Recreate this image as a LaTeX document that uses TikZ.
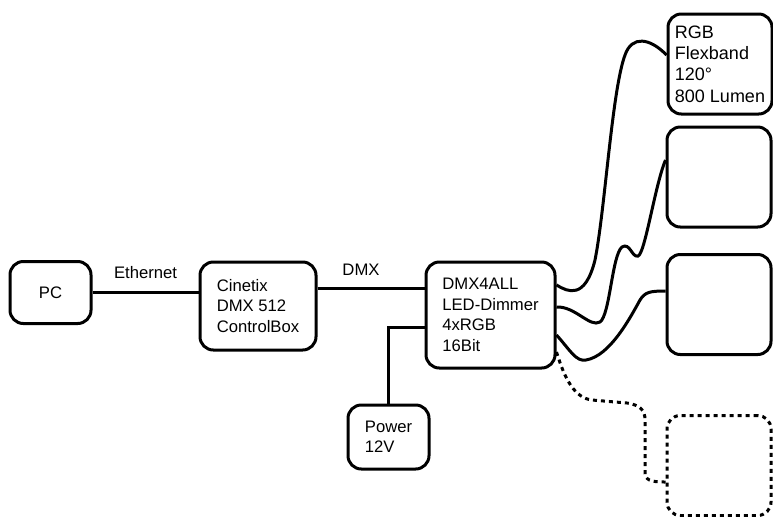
\documentclass[tikz,border=0pt]{standalone}
\usepackage{fontspec}
\setmainfont{Liberation Sans}
\usetikzlibrary{positioning}

\begin{document}
\begin{tikzpicture}[x=0.6pt, y=-0.6pt,
  box/.style={rectangle, rounded corners=8pt, draw, line width=1.8pt,
              align=left, font=\fontsize{10}{12.3}\selectfont},
  ledbox/.style={box, minimum width=62.4pt, minimum height=60pt},
  wire/.style={line width=1.8pt},
  spare/.style={dash pattern=on 2.4pt off 2.4pt},
  lbl/.style={font=\fontsize{10}{12}\selectfont}
]
\useasboundingbox (0,0) rectangle (773,516);

% control side
\node[box, minimum width=48.6pt, minimum height=37.2pt] (pc) at (50.5,292.5) {PC};
\node[box, minimum width=69.6pt, minimum height=52.8pt] (cinetix) at (258,306)
  {Cinetix\\DMX 512\\ControlBox};
\node[box, minimum width=77.4pt, minimum height=63.6pt] (dimmer) at (490.5,315)
  {DMX4ALL\\LED-Dimmer\\4xRGB\\16Bit};
\node[box, minimum width=48.6pt, minimum height=38.4pt] (power) at (388.5,437)
  {Power\\12V};

% led strips
\node[ledbox, font=\fontsize{10.8}{12.8}\selectfont, inner xsep=2pt] (rgbA) at (720,64)
  {RGB\\Flexband\\120°\\800 Lumen};
\node[ledbox] (rgbB) at (719,177) {};
\node[ledbox] (rgbC) at (719,304.5) {};
\node[ledbox, spare] (rgbD) at (719,465.5) {};

% cables
\draw[wire] (pc.east) -- node[lbl, above=4pt]{Ethernet} (pc.east -| cinetix.west);
\draw[wire] ([yshift=10.8pt]cinetix.east) -- node[lbl, above=3.3pt, xshift=-6pt]{DMX}
  ([yshift=10.8pt]cinetix.east -| dimmer.west);
\draw[wire] (power.north) |- ([yshift=-7.2pt]dimmer.west);

\draw[wire] ([yshift=18pt]dimmer.east) .. controls (568,292) and (585,300) .. (595,260)
  .. controls (605,210) and (612,90) .. (625,55)
  .. controls (632,35) and (650,38) .. ([yshift=5.4pt]rgbA.west);
\draw[wire] ([yshift=4.8pt]dimmer.east) .. controls (575,306) and (590,328) .. (600,322)
  .. controls (610,315) and (612,255) .. (622,247)
  .. controls (630,242) and (632,258) .. (638,256)
  .. controls (645,254) and (655,185) .. ([yshift=10.2pt]rgbB.west);
\draw[wire] ([yshift=-12pt]dimmer.east) .. controls (570,350) and (576,362) .. (586,360)
  .. controls (610,356) and (630,318) .. (640,300)
  .. controls (645,292) and (650,291) .. ([yshift=8.1pt]rgbC.west);
\draw[wire, spare] ([yshift=-22.2pt]dimmer.east) .. controls (565,380) and (575,398) .. (592,400)
  -- (627,403) .. controls (640,405) and (645,410) .. (645,420)
  -- (645,472) .. controls (645,480) and (650,482) .. ([yshift=-9.9pt]rgbD.west);
\end{tikzpicture}
\end{document}
